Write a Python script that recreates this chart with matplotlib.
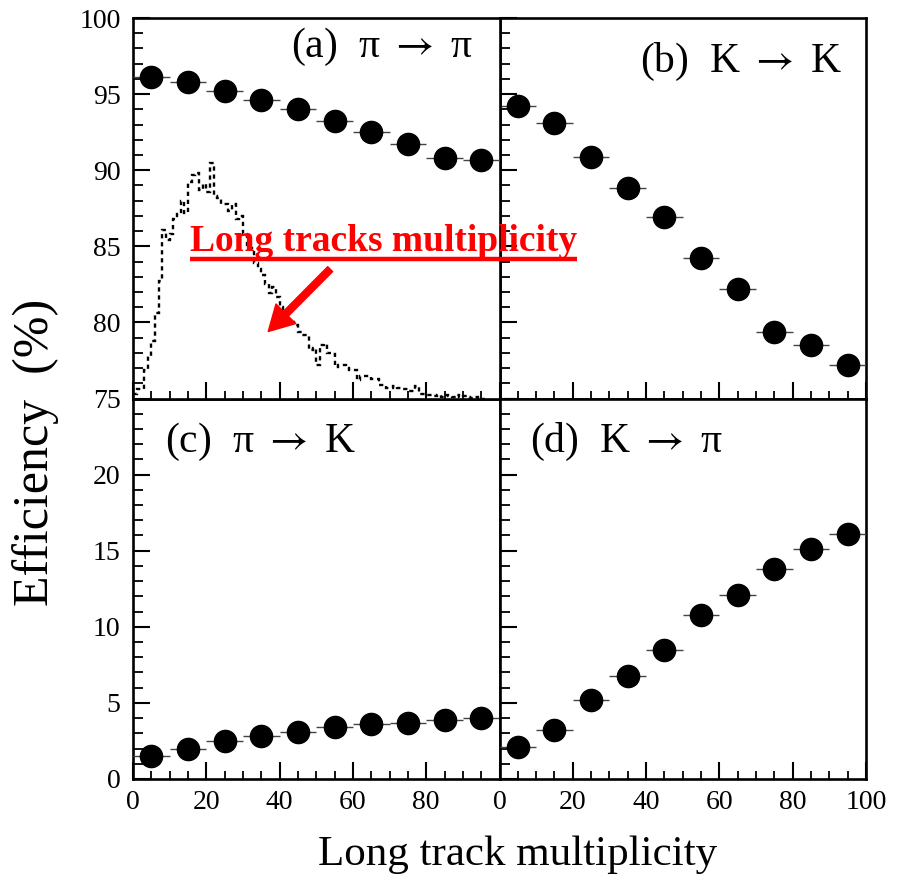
import numpy as np
import matplotlib
matplotlib.use("Agg")
import matplotlib.pyplot as plt
from matplotlib.ticker import MultipleLocator, FixedLocator

plt.rcParams.update({
    "font.family": ["Liberation Serif", "DejaVu Serif"],
    "mathtext.fontset": "stix",
    "font.size": 20,
    "axes.linewidth": 1.9,
    "xtick.direction": "in", "ytick.direction": "in",
    "xtick.major.size": 12, "xtick.minor.size": 6,
    "ytick.major.size": 12, "ytick.minor.size": 7,
    "xtick.major.width": 1.5, "xtick.minor.width": 1.3,
    "ytick.major.width": 1.5, "ytick.minor.width": 1.3,
    "xtick.labelsize": 20, "ytick.labelsize": 20,
})

# bin centres (long track multiplicity) and efficiencies in %
mult = [5, 15, 25, 35, 45, 55, 65, 75, 85, 95]
pi_pi = [96.1, 95.8, 95.2, 94.6, 94.0, 93.2, 92.5, 91.7, 90.8, 90.7]
k_k = [94.2, 93.1, 90.9, 88.8, 86.9, 84.2, 82.2, 79.4, 78.5, 77.2]
pi_k = [1.5, 2.0, 2.5, 2.8, 3.1, 3.4, 3.6, 3.7, 3.9, 4.0]
k_pi = [2.1, 3.2, 5.2, 6.8, 8.5, 10.8, 12.1, 13.8, 15.1, 16.1]
bin_half = 5

# multiplicity distribution, arbitrary scale, drawn on top of panel (a)
hist_vals = [75.3, 75.6, 75.6, 76.9, 77.8, 78.8, 80.6, 82.7, 86.1, 85.4,
             85.8, 86.8, 87.1, 88.0, 87.2, 89.2, 89.7, 89.8, 88.7, 89.1,
             88.6, 90.5, 88.3, 88.2, 87.8, 87.8, 87.3, 87.8, 86.8, 87.0,
             85.8, 84.9, 84.9, 83.9, 83.5, 83.1, 82.5, 81.9, 82.3, 81.7,
             81.0, 80.5, 80.2, 80.0, 79.8, 79.4, 79.2, 79.2, 78.2, 78.3,
             77.2, 78.5, 78.6, 78.0, 77.9, 77.05, 77.2, 77.2, 77.0, 76.9,
             76.9, 76.2, 76.5, 76.5, 76.5, 76.3, 76.3, 75.9, 75.9, 75.7,
             75.7, 75.85, 75.7, 75.6, 75.6, 75.5, 75.5, 75.8, 75.3, 75.3,
             75.2, 75.25, 75.15, 75.2, 75.1, 75.25, 75.15, 75.1, 75.2, 75.1,
             75.15, 75.1, 75.05, 75.1, 75.05, 75.0]

fig, axes = plt.subplots(2, 2, figsize=(8.99, 8.76), dpi=100)
fig.subplots_adjust(left=133 / 899, right=866 / 899, top=1 - 18 / 876,
                    bottom=1 - 779 / 876, wspace=0, hspace=0)
(ax_a, ax_b), (ax_c, ax_d) = axes
ax_a.set_zorder(2)  # let the red label spill over panel (b)

arrow = r"$\rightarrow$"
panels = [
    (ax_a, pi_pi, f"(a)  \u03c0 {arrow} \u03c0", (0.43, 0.923)),
    (ax_b, k_k, f"(b)  K {arrow} K", (0.384, 0.884)),
    (ax_c, pi_k, f"(c)  \u03c0 {arrow} K", (0.087, 0.885)),
    (ax_d, k_pi, f"(d)  K {arrow} \u03c0", (0.084, 0.885)),
]
for ax, eff, lab, pos in panels:
    ax.errorbar(mult, eff, xerr=bin_half, fmt="o", ms=16, mfc="black",
                mec="black", ecolor="#444444", elinewidth=1.0, capsize=0,
                zorder=3)
    ax.text(pos[0], pos[1], lab, transform=ax.transAxes, fontsize=30,
            va="center", ha="left")
    ax.set_xlim(0, 100)
    ax.xaxis.set_major_locator(MultipleLocator(20))
    ax.xaxis.set_minor_locator(MultipleLocator(5))
    ax.yaxis.set_major_locator(MultipleLocator(5))
    ax.yaxis.set_minor_locator(MultipleLocator(1))
    ax.tick_params(which="both", top=False, right=False)
    ax.tick_params(axis="y", pad=9)
    ax.tick_params(axis="x", pad=8)

for ax in (ax_a, ax_b):
    ax.set_ylim(75, 100)
    ax.tick_params(labelbottom=False)
for ax in (ax_c, ax_d):
    ax.set_ylim(0, 25)
for ax in (ax_b, ax_d):
    ax.tick_params(labelleft=False)

ax_a.yaxis.set_major_locator(FixedLocator([75, 80, 85, 90, 95, 100]))
ax_c.yaxis.set_major_locator(FixedLocator([0, 5, 10, 15, 20]))
ax_c.xaxis.set_major_locator(FixedLocator([0, 20, 40, 60, 80]))
ax_d.xaxis.set_major_locator(FixedLocator([0, 20, 40, 60, 80, 100]))

# dotted multiplicity histogram in panel (a)
edges = np.arange(len(hist_vals) + 1)
ax_a.stairs(hist_vals, edges, baseline=None, color="black", lw=1.7,
            linestyle=(0, (1.8, 1.6)), zorder=2)

# red annotation with underline and arrow
txt = ax_a.text(15.6, 84.66, "Long tracks multiplicity", color="red",
                fontsize=27, fontweight="bold", va="baseline", ha="left",
                zorder=5, clip_on=False)
fig.canvas.draw()
bb = txt.get_window_extent().transformed(ax_a.transData.inverted())
ax_a.plot([bb.x0, bb.x1], [84.19, 84.19], color="red", lw=3.2,
          solid_capstyle="butt", clip_on=False, zorder=5)
ax_a.annotate("", xy=(36.9, 79.4), xytext=(53.8, 83.5),
              arrowprops=dict(facecolor="red", edgecolor="red", width=5,
                              headwidth=20, headlength=18, shrink=0),
              zorder=5)

fig.text(518 / 899, 1 - 855 / 876, "Long track multiplicity", fontsize=31,
         ha="center", va="center")
fig.text(36 / 899, 1 - 452 / 876, "Efficiency  (%)", fontsize=36,
         rotation=90, ha="center", va="center")

fig.savefig("out.png", dpi=100)
